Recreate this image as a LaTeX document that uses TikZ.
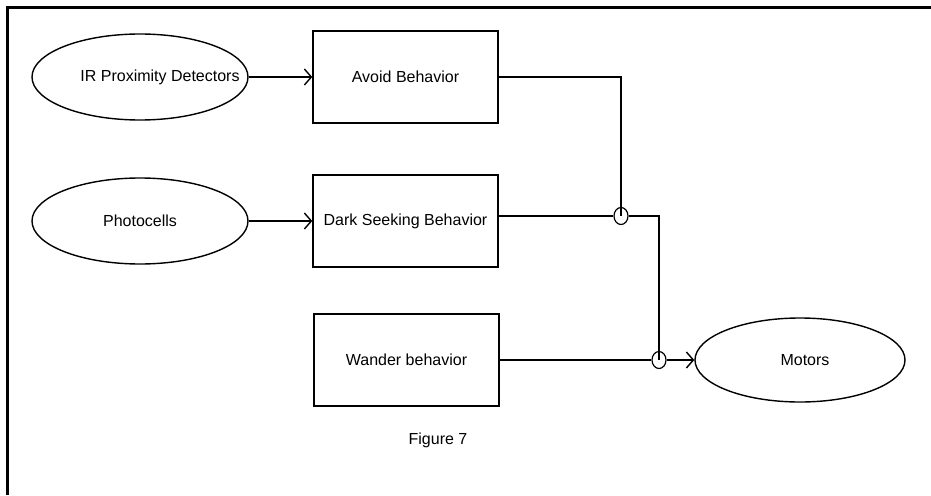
\documentclass[tikz,border=0pt]{standalone}
\usepackage{fontspec}
\setmainfont{Liberation Sans}
\usetikzlibrary{shapes.geometric,arrows.meta}
\begin{document}
\begin{tikzpicture}[x=1pt,y=-1pt,
  every node/.style={font=\fontsize{16}{19}\selectfont},
  sensor/.style={ellipse,draw,line width=1.4pt,minimum width=216pt,minimum height=86pt,inner sep=0pt},
  behav/.style={rectangle,draw,line width=1.4pt,minimum width=185pt,minimum height=92pt,inner sep=0pt},
  wire/.style={line width=1.4pt},
  arr/.style={line width=1.4pt,-{Straight Barb[length=7pt,width=16pt]}},
  supp/.style={ellipse,draw,line width=1.2pt,minimum width=14pt,minimum height=17pt,inner sep=0pt}]
\useasboundingbox (0,0) rectangle (931,495);
\draw[line width=3pt] (931,8) -- (7,8) -- (7,495);
\node[sensor] (ir) at (140,77) {};
\node (irt) at (160,77) {IR Proximity Detectors};
\node[sensor] (photo) at (140,221) {};
\node (photot) at (140,221) {Photocells};
\node[behav] (avoid) at (405.5,77) {Avoid Behavior};
\node[behav] (dark) at (405.5,221) {Dark Seeking Behavior};
\node[behav] (wander) at (406.5,360) {Wander behavior};
\node[sensor,minimum width=210pt,minimum height=84pt] (motors) at (800,360) {};
\node (motorst) at (805,360) {Motors};
\node (fig) at (438,440) {Figure 7};
\node[supp] (s1) at (621,216) {};
\node[supp] (s2) at (659,360) {};
\draw[arr] (ir.east) -- (avoid.west);
\draw[arr] (photo.east) -- (dark.west);
\draw[wire] (avoid.east) -| (s1.center);
\draw[wire] (dark.east |- s1) -- (s1.west);
\draw[wire] (s1.east) -| (s2.center);
\draw[wire] (wander.east |- s2) -- (s2.west);
\draw[arr] (s2.east) -- (motors.west);
\end{tikzpicture}
\end{document}
